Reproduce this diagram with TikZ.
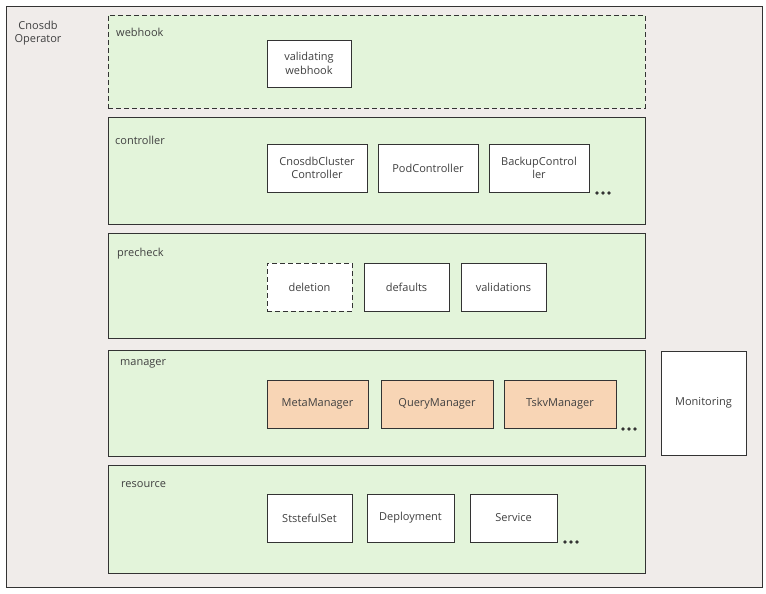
\documentclass[tikz,border=0pt]{standalone}
\usepackage{fontspec}
\setmainfont{Open Sans}

\definecolor{COLine}{HTML}{333333}
\definecolor{COText}{HTML}{404040}
\definecolor{COBack}{HTML}{F0ECEA}
\definecolor{COLayer}{HTML}{E3F4DA}
\definecolor{COPeach}{HTML}{F8D5B5}

\tikzset{
  layerbox/.style={draw=COLine, line width=0.8pt, fill=COLayer, inner sep=0pt},
  itembox/.style={draw=COLine, line width=0.8pt, fill=white, align=center,
    text=COText, inner sep=2pt, font=\fontsize{11}{13.5}\selectfont},
  layertext/.style={anchor=west, text=COText, inner sep=0pt, font=\fontsize{11}{13.5}\selectfont},
  dashline/.style={dash pattern=on 5pt off 3pt},
}

\begin{document}
\begin{tikzpicture}[x=1pt, y=-1pt]

  % ---- canvas ----
  \useasboundingbox (0,0) rectangle (766,594);
  \draw[COLine, line width=0.8pt, fill=COBack] (6,6) rectangle (762,587);
  \node[align=center, text=COText, inner sep=0pt, font=\fontsize{11}{13.5}\selectfont]
    (operator) at (38,33) {Cnosdb\\Operator};

  % ---- layers ----
  \node[layerbox, dashline, minimum width=537pt, minimum height=93pt] (webhook) at (376.5,61.5) {};
  \node[layerbox, minimum width=537pt, minimum height=107pt] (controller) at (376.5,170.5) {};
  \node[layerbox, minimum width=537pt, minimum height=105pt] (precheck) at (376.5,285.5) {};
  \node[layerbox, minimum width=537pt, minimum height=106pt] (manager) at (376.5,403) {};
  \node[layerbox, minimum width=537pt, minimum height=108pt] (resource) at (376.5,519) {};

  \node[layertext] (webhooklbl) at (116,32) {webhook};
  \node[layertext] (controllerlbl) at (115,140) {controller};
  \node[layertext] (prechecklbl) at (117,254) {precheck};
  \node[layertext] (managerlbl) at (120,364) {manager};
  \node[layertext] (resourcelbl) at (121,485) {resource};

  % ---- webhook ----
  \node[itembox, minimum width=84pt, minimum height=47pt] (validwh) at (309,63.5) {validating\\webhook};

  % ---- controller ----
  \node[itembox, minimum width=100pt, minimum height=48pt] (clusterctl) at (317,168) {CnosdbCluster\\Controller};
  \node[itembox, minimum width=100pt, minimum height=48pt] (podctl) at (428,168) {PodController};
  \node[itembox, minimum width=100pt, minimum height=48pt] (backupctl) at (539,168) {BackupControl\\ler};

  % ---- precheck ----
  \node[itembox, dashline, minimum width=85pt, minimum height=48pt] (deletion) at (309.5,287) {deletion};
  \node[itembox, minimum width=85pt, minimum height=48pt] (defaults) at (406.5,287) {defaults};
  \node[itembox, minimum width=85pt, minimum height=48pt] (validations) at (503.5,287) {validations};

  % ---- manager ----
  \node[itembox, fill=COPeach, minimum width=101pt, minimum height=48pt] (metamgr) at (317.5,404) {MetaManager};
  \node[itembox, fill=COPeach, minimum width=112pt, minimum height=48pt] (querymgr) at (437,404) {QueryManager};
  \node[itembox, fill=COPeach, minimum width=112pt, minimum height=48pt] (tskvmgr) at (560,404) {TskvManager};

  % ---- resource ----
  \node[itembox, minimum width=85pt, minimum height=48pt] (statefulset) at (309.5,518) {StstefulSet};
  \node[itembox, minimum width=87pt, minimum height=48pt] (deployment) at (410.5,518) {Deployment};
  \node[itembox, minimum width=87pt, minimum height=48pt] (service) at (513.5,518) {Service};

  % ---- monitoring ----
  \node[itembox, minimum width=85pt, minimum height=104pt] (monitoring) at (703.5,403) {Monitoring};

  % ---- more dots ----
  \foreach \cx/\cy in {597/193, 623/429, 565/542}
    \foreach \k in {0,1,2}
      \fill[COLine] (\cx+6*\k,\cy) circle (1.8pt);

\end{tikzpicture}
\end{document}
